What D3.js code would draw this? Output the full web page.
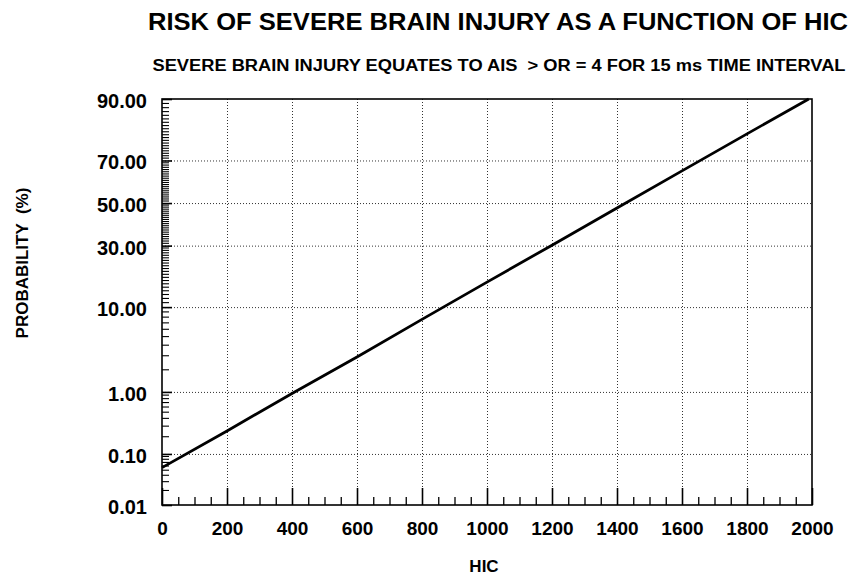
<!DOCTYPE html>
<html>
<head>
<meta charset="utf-8">
<script src="https://cdn.jsdelivr.net/npm/d3@7"></script>
<style>
  html, body { margin: 0; padding: 0; background: #fff; }
  svg { display: block; }
  text { font-family: "Liberation Sans", Arial, sans-serif; font-weight: bold; fill: #000; white-space: pre; }
</style>
</head>
<body>
<svg id="chart" width="860" height="580"></svg>
<script>
// ---- data ----
const hicValues = [0, 200, 400, 600, 800, 1000, 1200, 1400, 1600, 1800, 1990];
const riskPercent = [0.056, 0.25, 0.95, 2.9, 7.6, 16.5, 30.2, 47.6, 65.4, 80.3, 90.0];

const xTickValues = [0, 200, 400, 600, 800, 1000, 1200, 1400, 1600, 1800, 2000];
const xMinorTicks = d3.range(50, 2000, 50).filter(v => v % 200 !== 0);
const yTickValues = [0.01, 0.10, 1.00, 10.00, 30.00, 50.00, 70.00, 90.00];
const yGridValues = [0.10, 1.00, 10.00, 30.00, 50.00, 70.00];
const yMinorTicks = [].concat(
  d3.range(2, 10).map(v => v / 100),
  d3.range(2, 10).map(v => v / 10),
  d3.range(2, 10),
  d3.range(11, 90).filter(v => ![30, 50, 70].includes(v))
);

const titleText = "RISK OF SEVERE BRAIN INJURY AS A FUNCTION OF HIC";
const subtitleText = "SEVERE BRAIN INJURY EQUATES TO AIS  > OR = 4 FOR 15 ms TIME INTERVAL";
const xTitle = "HIC";
const yTitle = "PROBABILITY  (%)";

// ---- normal probability (probit) transform ----
function probit(p) {
  const a = [-3.969683028665376e+01, 2.209460984245205e+02, -2.759285104469687e+02, 1.383577518672690e+02, -3.066479806614716e+01, 2.506628277459239e+00];
  const b = [-5.447609879822406e+01, 1.615858368580409e+02, -1.556989798598866e+02, 6.680131188771972e+01, -1.328068155288572e+01];
  const c = [-7.784894002430293e-03, -3.223964580411365e-01, -2.400758277161838e+00, -2.549732539343734e+00, 4.374664141464968e+00, 2.938163982698783e+00];
  const d = [7.784695709041462e-03, 3.224671290700398e-01, 2.445134137142996e+00, 3.754408661907416e+00];
  const pl = 0.02425, ph = 1 - pl;
  let q, r;
  if (p < pl) {
    q = Math.sqrt(-2 * Math.log(p));
    return (((((c[0]*q+c[1])*q+c[2])*q+c[3])*q+c[4])*q+c[5]) / ((((d[0]*q+d[1])*q+d[2])*q+d[3])*q+1);
  } else if (p <= ph) {
    q = p - 0.5; r = q*q;
    return (((((a[0]*r+a[1])*r+a[2])*r+a[3])*r+a[4])*r+a[5])*q / (((((b[0]*r+b[1])*r+b[2])*r+b[3])*r+b[4])*r+1);
  } else {
    q = Math.sqrt(-2 * Math.log(1 - p));
    return -(((((c[0]*q+c[1])*q+c[2])*q+c[3])*q+c[4])*q+c[5]) / ((((d[0]*q+d[1])*q+d[2])*q+d[3])*q+1);
  }
}

const plot = { left: 162, right: 812, top: 99, bottom: 505 };

function makeProbitScale(pMin, pMax, range) {
  const lin = d3.scaleLinear().domain([probit(pMin / 100), probit(pMax / 100)]).range(range);
  const s = v => lin(probit(v / 100));
  s.domain = () => [pMin, pMax];
  s.range = () => lin.range();
  s.copy = () => makeProbitScale(pMin, pMax, range);
  return s;
}

const x = d3.scaleLinear().domain([0, 2000]).range([plot.left, plot.right]);
const y = makeProbitScale(0.01, 90, [plot.bottom, plot.top]);

const svg = d3.select("#chart");
const W = plot.right - plot.left, H = plot.bottom - plot.top;

// gridlines
svg.append("g")
  .attr("transform", `translate(0,${plot.bottom})`)
  .call(d3.axisBottom(x).tickValues(xTickValues.filter(v => v > 0 && v < 2000)).tickSize(-H).tickFormat(""))
  .call(g => g.select(".domain").remove())
  .call(g => g.selectAll("line").attr("stroke", "#333").attr("stroke-width", 1).attr("stroke-dasharray", "1,2"));

svg.append("g")
  .attr("transform", `translate(${plot.left},0)`)
  .call(d3.axisLeft(y).tickValues(yGridValues).tickSize(-W).tickFormat(""))
  .call(g => g.select(".domain").remove())
  .call(g => g.selectAll("line").attr("stroke", "#333").attr("stroke-width", 1).attr("stroke-dasharray", "1,2"));

// minor ticks
svg.append("g")
  .attr("transform", `translate(0,${plot.bottom})`)
  .call(d3.axisBottom(x).tickValues(xMinorTicks).tickSize(-8).tickFormat(""))
  .call(g => g.select(".domain").remove())
  .call(g => g.selectAll("line").attr("stroke", "#000").attr("stroke-width", 1.3));

svg.append("g")
  .attr("class", "y-minor")
  .selectAll("line")
  .data(yMinorTicks)
  .join("line")
  .attr("x1", plot.left).attr("x2", plot.left + 7)
  .attr("y1", d => y(d)).attr("y2", d => y(d))
  .attr("stroke", "#000").attr("stroke-width", 1.1);

// major axes
svg.append("g")
  .attr("transform", `translate(0,${plot.bottom})`)
  .call(d3.axisBottom(x).tickValues(xTickValues).tickSize(-17).tickPadding(16.5).tickFormat(d3.format("d")))
  .call(g => g.select(".domain").remove())
  .call(g => g.selectAll("line").attr("stroke", "#000").attr("stroke-width", 1.6))
  .call(g => g.selectAll("text").attr("font-size", 19).attr("font-family", null).attr("fill", "#000"));

svg.append("g")
  .attr("transform", `translate(${plot.left},0)`)
  .call(d3.axisLeft(y).tickValues(yTickValues).tickSize(-10).tickPadding(15).tickFormat(d3.format(".2f")))
  .call(g => g.select(".domain").remove())
  .call(g => g.selectAll("line").attr("stroke", "#000").attr("stroke-width", 1.6))
  .call(g => g.selectAll("text").attr("font-size", 20).attr("dy", "0.42em").attr("font-family", null).attr("fill", "#000"));

// frame
svg.append("rect")
  .attr("x", plot.left).attr("y", plot.top)
  .attr("width", W).attr("height", H)
  .attr("fill", "none").attr("stroke", "#000").attr("stroke-width", 1.6);

// risk line
const pts = hicValues.map((h, i) => ({ hic: h, p: riskPercent[i] }));
svg.append("path")
  .datum(pts)
  .attr("fill", "none")
  .attr("stroke", "#000")
  .attr("stroke-width", 2.8)
  .attr("d", d3.line().x(d => x(d.hic)).y(d => y(d.p)));

// titles
svg.append("text")
  .attr("x", 498).attr("y", 30)
  .attr("text-anchor", "middle")
  .attr("font-size", 24)
  .attr("textLength", 700).attr("lengthAdjust", "spacingAndGlyphs")
  .text(titleText);

svg.append("text")
  .attr("x", 499).attr("y", 71)
  .attr("text-anchor", "middle")
  .attr("font-size", 16)
  .attr("textLength", 693).attr("lengthAdjust", "spacingAndGlyphs")
  .text(subtitleText);

svg.append("text")
  .attr("x", 484).attr("y", 572)
  .attr("text-anchor", "middle")
  .attr("font-size", 17)
  .text(xTitle);

svg.append("text")
  .attr("transform", "translate(28,263) rotate(-90)")
  .attr("text-anchor", "middle")
  .attr("font-size", 17)
  .text(yTitle);
</script>
</body>
</html>
